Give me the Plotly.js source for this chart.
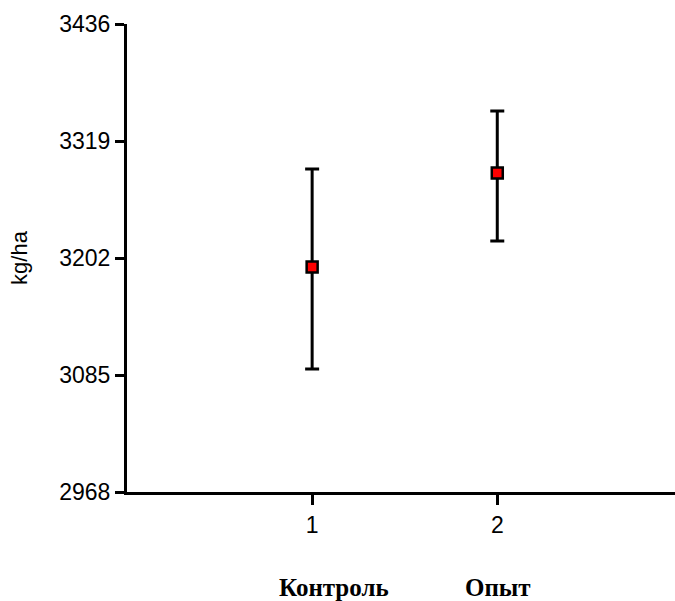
<!DOCTYPE html>
<html>
<head>
<meta charset="utf-8">
<script src="https://cdn.plot.ly/plotly-3.0.1.min.js"></script>
<style>html,body{margin:0;padding:0;background:#fff;}#chart{width:675px;height:601px;}</style>
</head>
<body>
<div id="chart"></div>
<script>
const groups = [1, 2];
const groupNames = ["Контроль", "Опыт"];
const means = [3193, 3287];
const errPlus = [98, 62];
const errMinus = [102, 68];
const yTicks = [2968, 3085, 3202, 3319, 3436];
const yTitle = "kg/ha";

const trace = {
  x: groups,
  y: means,
  type: "scatter",
  mode: "markers",
  marker: {symbol: "square", size: 11, color: "#ff0000", line: {color: "#000", width: 2.5}},
  error_y: {type: "data", symmetric: false, array: errPlus, arrayminus: errMinus,
            color: "#000", thickness: 3, width: 7},
  showlegend: false,
  cliponaxis: false
};

const annotations = groupNames.map((t, i) => ({
  text: "<b>" + t + "</b>",
  xref: "x", yref: "paper",
  x: [1.116, 2.005][i], y: -0.203,
  xanchor: "center", yanchor: "middle",
  showarrow: false,
  font: {family: "Liberation Serif, Times New Roman, serif", size: 25, color: "#000"}
}));

const layout = {
  width: 675, height: 601,
  margin: {l: 127, r: 0, t: 24, b: 109},
  paper_bgcolor: "#fff", plot_bgcolor: "#fff",
  font: {family: "Liberation Sans, Arial, sans-serif", size: 23, color: "#000"},
  xaxis: {
    range: [0, 2.96], tickvals: groups, ticktext: groups.map(String),
    showgrid: false, zeroline: false, showline: true, linecolor: "#000", linewidth: 3,
    ticks: "outside", ticklen: 10, tickwidth: 3, tickcolor: "#000",
    tickfont: {size: 23}
  },
  yaxis: {
    range: [2968, 3436], tickvals: yTicks, ticktext: yTicks.map(String),
    showgrid: false, zeroline: false, showline: true, linecolor: "#000", linewidth: 3,
    ticks: "outside", ticklen: 9, tickwidth: 3, tickcolor: "#000",
    tickfont: {size: 23}, ticklabelstandoff: 0,
    title: {text: yTitle, font: {size: 22}, standoff: 26}
  },
  annotations: annotations
};

Plotly.newPlot("chart", [trace], layout, {staticPlot: true, displayModeBar: false});
</script>
</body>
</html>
